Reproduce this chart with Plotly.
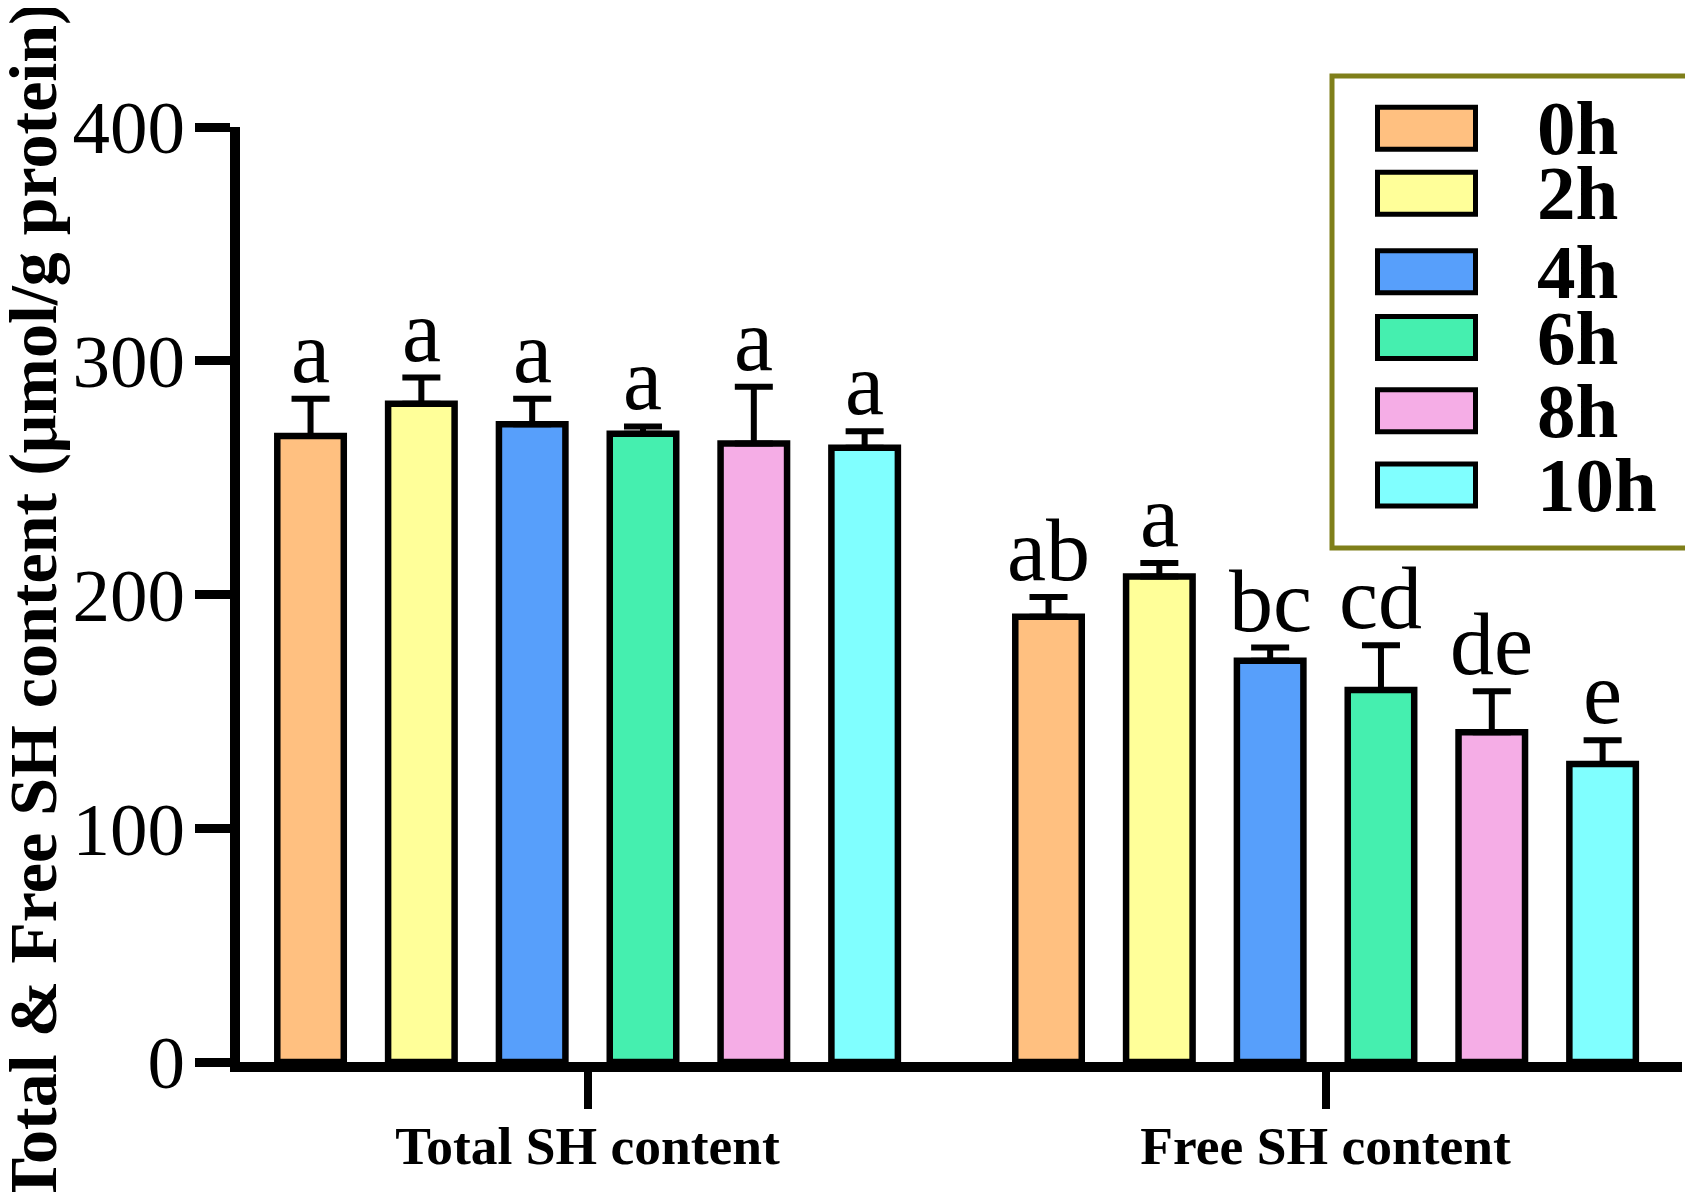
import plotly.graph_objects as go

# ---------------- data ----------------
groups = ["Total SH content", "Free SH content"]
series = ["0h", "2h", "4h", "6h", "8h", "10h"]

total_mean = [267.8, 281.6, 272.8, 268.8, 264.6, 262.8]
total_err = [15.9, 11.2, 10.9, 3.1, 24.3, 7.0]
free_mean = [190.5, 207.7, 171.7, 159.1, 141.1, 127.5]
free_err = [8.4, 5.8, 5.6, 19.2, 17.5, 10.1]

total_letters = ["a", "a", "a", "a", "a", "a"]
free_letters = ["ab", "a", "bc", "cd", "de", "e"]

y_ticks = [0, 100, 200, 300, 400]
y_title = "Total & Free SH content (μmol/g protein)"

# ---------------- style ----------------
colors = ["#FFC080", "#FFFF99", "#579FFB", "#45EFAF", "#F5ADE6", "#80FFFF"]
SERIF = "Liberation Serif, Times New Roman, serif"

OFF = 8                      # default page body margin
W, H = 1693 - 2 * OFF, 1200 - 2 * OFF
# plot area in page pixels: left 240, right 1682, top 127, bottom 1062
ML = 240 - OFF
MR = W - (1682 - OFF)
MT = 127 - OFF
MB = H - (1062 - OFF)
PW, PH = W - ML - MR, H - MT - MB
BARGAP = 0.099
BARGROUPGAP = 0.4


def px2paper_x(px):
    return (px - OFF - ML) / PW


def px2paper_y(py):
    return (H - MB - (py - OFF)) / PH


fig = go.Figure()
for i, name in enumerate(series):
    fig.add_trace(go.Bar(
        name=name,
        x=groups,
        y=[total_mean[i], free_mean[i]],
        marker=dict(color=colors[i], line=dict(color="black", width=6.5)),
        error_y=dict(type="data", array=[total_err[i], free_err[i]],
                     arrayminus=[0, 0], symmetric=False,
                     color="black", thickness=6, width=19),
        showlegend=False,
    ))

# significance letters above the error bars
slot = (1 - BARGAP) / len(series)
annotations = []
for g, (means, errs, letters) in enumerate([(total_mean, total_err, total_letters),
                                            (free_mean, free_err, free_letters)]):
    for i in range(len(series)):
        annotations.append(dict(
            x=g + (i - (len(series) - 1) / 2) * slot, y=means[i] + errs[i],
            xref="x", yref="y", text=letters[i], showarrow=False,
            xanchor="center", yanchor="bottom", yshift=-4,
            font=dict(family=SERIF, size=88, color="black"),
        ))

# y-axis title
annotations.append(dict(
    x=px2paper_x(33), y=px2paper_y(603), xref="paper", yref="paper",
    text=y_title, textangle=-90, showarrow=False,
    xanchor="center", yanchor="middle",
    font=dict(family=SERIF, size=68, color="black", weight="bold"),
))

# manual legend (large swatches, as in the reference)
shapes = [dict(type="rect", xref="paper", yref="paper",
               x0=px2paper_x(1332), x1=px2paper_x(1688),
               y0=px2paper_y(76), y1=px2paper_y(548),
               line=dict(color="#7F7F1A", width=5), fillcolor="white", layer="above")]
legend_centers = [128.3, 193.3, 271.7, 337.5, 410.8, 485.0]
for i, name in enumerate(series):
    cy = legend_centers[i]
    shapes.append(dict(type="rect", xref="paper", yref="paper",
                       x0=px2paper_x(1377.5), x1=px2paper_x(1475.5),
                       y0=px2paper_y(cy - 21), y1=px2paper_y(cy + 21),
                       line=dict(color="black", width=5), fillcolor=colors[i],
                       layer="above"))
    annotations.append(dict(
        x=px2paper_x(1535), y=px2paper_y(cy), xref="paper", yref="paper",
        text=name, showarrow=False, xanchor="left", yanchor="middle",
        font=dict(family=SERIF, size=77, color="black", weight="bold"),
    ))

fig.update_layout(
    width=W, height=H,
    margin=dict(l=ML, r=MR, t=MT, b=MB, pad=0),
    paper_bgcolor="white", plot_bgcolor="white",
    barmode="group", bargap=BARGAP, bargroupgap=BARGROUPGAP,
    annotations=annotations, shapes=shapes,
    showlegend=False,
    xaxis=dict(type="category", range=[-0.471, 1.483], automargin=False,
               showline=True, linecolor="black", linewidth=10,
               ticks="outside", ticklen=37, tickwidth=8, tickcolor="black",
               ticklabelstandoff=-9,
               showgrid=False, zeroline=False,
               tickfont=dict(family=SERIF, size=53.5, color="black", weight="bold")),
    yaxis=dict(range=[0, 400], tickvals=y_ticks, automargin=False,
               showline=True, linecolor="black", linewidth=10,
               ticks="outside", ticklen=35, tickwidth=9, tickcolor="black",
               ticklabelstandoff=-5,
               showgrid=False, zeroline=False,
               tickfont=dict(family=SERIF, size=75, color="black")),
)

fig.write_html("out.html")
